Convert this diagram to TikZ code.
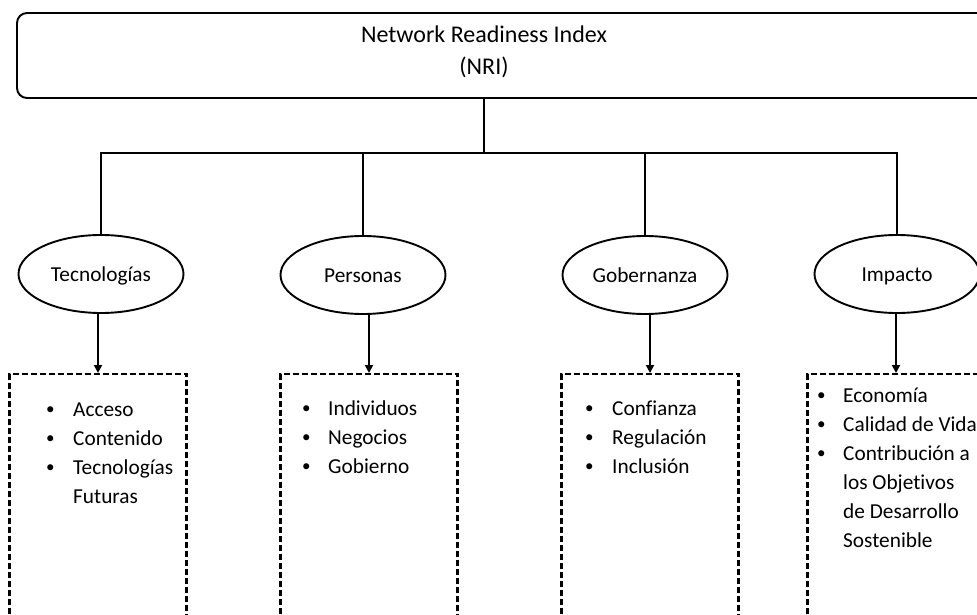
\documentclass[tikz,border=0pt]{standalone}
\usepackage{fontspec}
\usepackage{graphicx}
\setmainfont[Ligatures=NoCommon]{Carlito}
\usetikzlibrary{shapes.geometric,arrows.meta}

\tikzset{
  line/.style={line width=1.9pt, black},
  rootbox/.style={line, draw, rounded corners=10pt, minimum width=983pt,
    minimum height=85pt, inner sep=0pt, align=center,
    font=\fontsize{24}{32}\selectfont},
  pillar/.style={line, draw, ellipse, minimum width=165pt, minimum height=78pt,
    inner sep=0pt, text height=15pt, text depth=0pt,
    font=\fontsize{21.3}{29}\selectfont},
  listbox/.style={line, draw, line width=2.1pt, dash pattern=on 6pt off 3pt,
    minimum width=177pt, minimum height=330pt, anchor=north, inner sep=0pt},
  listtext/.style={anchor=north west, inner sep=0pt, align=left,
    font=\fontsize{21.3}{29}\selectfont},
  arrowline/.style={line, -{Triangle[length=8pt,width=8pt]}}
}
% bullet item and continuation line with a fixed indent
\newcommand{\bitem}[2][28pt]{\makebox[#1][l]{\hspace{2pt}\raisebox{1.5pt}{\scalebox{0.8}{\textbullet}}}#2}
\newcommand{\bcont}[2][28pt]{\hspace*{#1}#2}

\begin{document}
\begin{tikzpicture}[x=1pt,y=-1pt]
  \useasboundingbox (0,0) rectangle (977,615);
  \clip (0,0) rectangle (977,615);
  \fill[white] (0,0) rectangle (977,615);

  % root box, running past the right edge
  \node[rootbox] (root) at (508.5,55.5) {};
  \node[inner sep=0pt, align=center, font=\fontsize{24}{32}\selectfont] (title) at (484,55.5)
    {\rule{0pt}{20pt}Network Readiness Index\\(NRI)\rule[-13pt]{0pt}{13pt}};

  % pillars
  \node[pillar] (tec) at (101,274) {Tecnologías};
  \node[pillar] (per) at (363,275) {Personas};
  \node[pillar] (gob) at (645,275) {Gobernanza};
  \node[pillar] (imp) at (897,274) {Impacto};

  % tree connectors
  \coordinate (hub) at (484,153);
  \draw[line] (hub |- root.south) -- (hub);
  \draw[line] (tec.north) |- (hub);
  \draw[line] (per.north) |- (hub);
  \draw[line] (gob.north) |- (hub);
  \draw[line] (imp.north) |- (hub);

  % dashed indicator boxes
  \node[listbox] (tecbox) at (98,373) {};
  \node[listbox] (perbox) at (369,373) {};
  \node[listbox] (gobbox) at (650,373) {};
  \node[listbox] (impbox) at (896,373) {};

  \draw[arrowline] (tecbox.north |- tec.south) -- (tecbox.north);
  \draw[arrowline] (perbox.north |- per.south) -- (perbox.north);
  \draw[arrowline] (gobbox.north |- gob.south) -- (gobbox.north);
  \draw[arrowline] (impbox.north |- imp.south) -- (impbox.north);

  % indicator lists
  \node[listtext] (teclist) at (44,399) {%
    \rule{0pt}{17pt}\bitem[29pt]{Acceso}\\
    \bitem[29pt]{Contenido}\\
    \bitem[29pt]{Tecnologías}\\
    \bcont[29pt]{Futuras}};
  \node[listtext] (perlist) at (300,398) {%
    \rule{0pt}{17pt}\bitem{Individuos}\\
    \bitem{Negocios}\\
    \bitem{Gobierno}};
  \node[listtext] (goblist) at (583,398) {%
    \rule{0pt}{17pt}\bitem[29pt]{Confianza}\\
    \bitem[29pt]{Regulación}\\
    \bitem[29pt]{Inclusión}};
  \node[listtext] (implist) at (815,385) {%
    \rule{0pt}{17pt}\bitem{Economía}\\
    \bitem{Calidad de Vida}\\
    \bitem{Contribución a}\\
    \bcont{los Objetivos}\\
    \bcont{de Desarrollo}\\
    \bcont{Sostenible}};
\end{tikzpicture}
\end{document}
